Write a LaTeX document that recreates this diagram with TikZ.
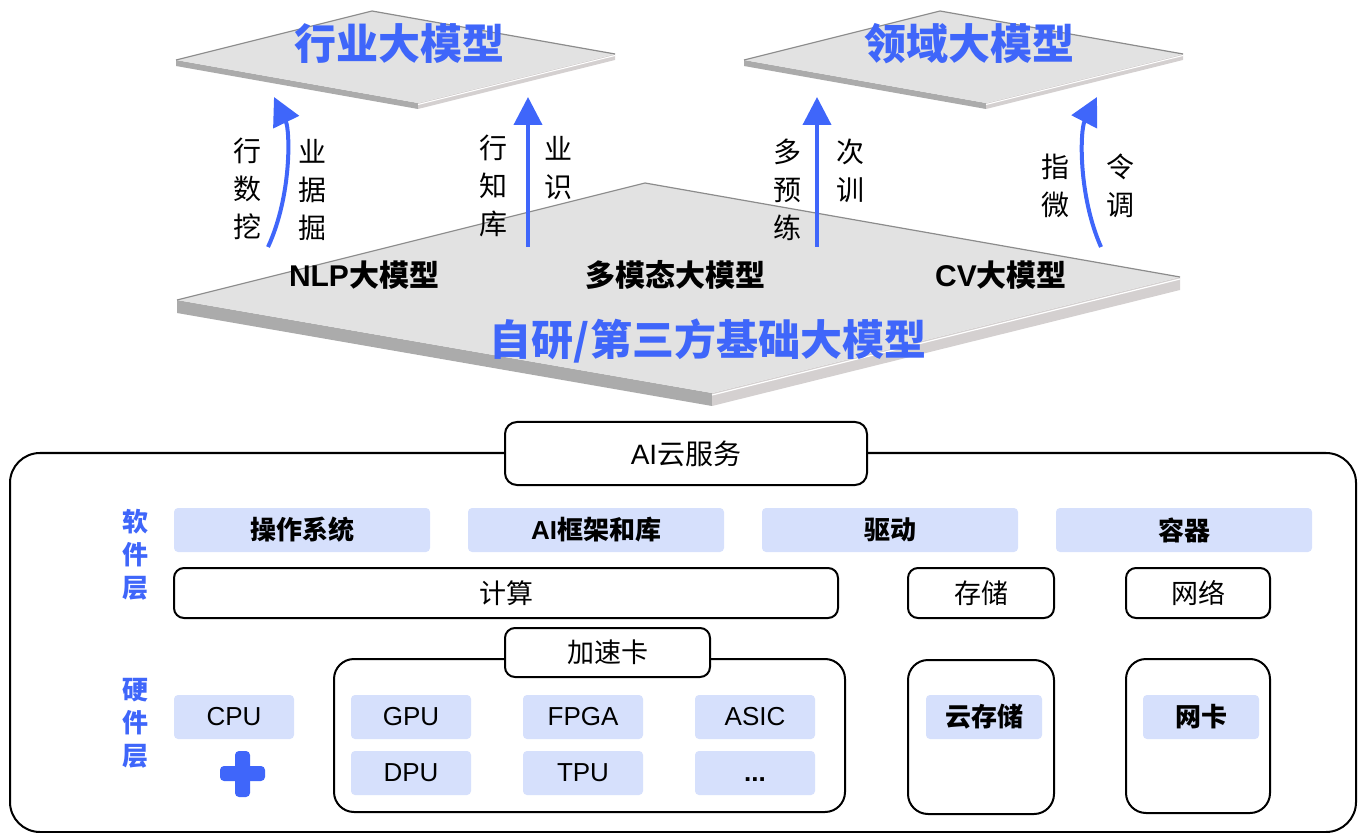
\documentclass[tikz,border=0pt]{standalone}
\usepackage{fontspec}
\setmainfont{Liberation Sans}
\newfontfamily\cjk{Noto Sans CJK SC}
\usetikzlibrary{arrows.meta}
\definecolor{tblue}{HTML}{3F66FA}
\definecolor{lblue}{HTML}{D6E0FC}
\definecolor{face}{HTML}{E2E2E2}
\definecolor{sideL}{HTML}{ABABAB}
\definecolor{sideR}{HTML}{D4D0D0}
\definecolor{edgec}{HTML}{8C8C8C}
\tikzset{
  lbx/.style={fill=lblue, rounded corners=2pt, inner sep=0pt, minimum height=22pt},
  cjkb/.style={font=\cjk\bfseries\fontsize{13}{15}\selectfont},
  latn/.style={font=\fontsize{13}{15}\selectfont},
  wbx/.style={draw=black, line width=1pt, fill=white, rounded corners=5pt, inner sep=0pt,
    font=\cjk\fontsize{13.5}{16}\selectfont},
  cont/.style={draw=black, line width=1pt, fill=white, rounded corners=10pt, inner sep=0pt},
  btitle/.style={text=tblue, font=\cjk\bfseries\fontsize{21}{25}\selectfont, inner sep=0pt},
  mtitle/.style={font=\cjk\bfseries\fontsize{15}{18}\selectfont, inner sep=0pt},
  lbl/.style={font=\cjk\fontsize{14}{19}\selectfont, align=center, inner sep=0pt},
  layer/.style={text=tblue, font=\cjk\bfseries\fontsize{13}{16.5}\selectfont, align=center, inner sep=0pt},
  arr/.style={draw=tblue, line width=2pt, -{Triangle[width=14pt,length=14pt]}},
}
\begin{document}
\begin{tikzpicture}[x=0.5pt,y=-0.5pt]
\useasboundingbox (0,0) rectangle (1358,833);

% ---------- big base plate ----------
\fill[sideL] (177,300) -- (712,393) -- (712,406) -- (177,313) -- cycle;
\fill[sideR] (712,393) -- (1180,277) -- (1180,290) -- (712,406) -- cycle;
\fill[face] (645,183) -- (1180,277) -- (712,393) -- (177,300) -- cycle;
\draw[edgec, line width=0.6pt] (177,300) -- (645,183) -- (1180,277);
\draw[white, line width=0.6pt] (712,395) -- (1180,279);

% ---------- top plates ----------
\fill[sideL] (176,60) -- (418,103) -- (418,109) -- (176,66) -- cycle;
\fill[sideR] (418,103) -- (615,54) -- (615,60) -- (418,109) -- cycle;
\fill[face] (372,11) -- (615,54) -- (418,103) -- (176,60) -- cycle;
\draw[edgec, line width=0.6pt] (176,60) -- (372,11) -- (615,54);
\draw[white, line width=0.5pt] (418,104.5) -- (615,55.5);

\fill[sideL] (744,60) -- (986,103) -- (986,109) -- (744,66) -- cycle;
\fill[sideR] (986,103) -- (1183,54) -- (1183,60) -- (986,109) -- cycle;
\fill[face] (940,11) -- (1183,54) -- (986,103) -- (744,60) -- cycle;
\draw[edgec, line width=0.6pt] (744,60) -- (940,11) -- (1183,54);
\draw[white, line width=0.5pt] (986,104.5) -- (1183,55.5);

% ---------- plate titles ----------
\node[btitle] (hy) at (399,44) {行业大模型};
\node[btitle] (ly) at (969,44) {领域大模型};
\node[btitle] (base) at (708,341) {自研/第三方基础大模型};
\node[mtitle] (nlp) at (364,275) {{\rmfamily NLP}大模型};
\node[mtitle] (mm) at (675,275) {多模态大模型};
\node[mtitle] (cv) at (1001,275) {{\rmfamily CV}大模型};

% ---------- arrows ----------
\coordinate (a1s) at (268,247); \coordinate (a1e) at (274,97);
\coordinate (a2s) at (528,247); \coordinate (a2e) at (528,97);
\coordinate (a3s) at (817,247); \coordinate (a3e) at (817,97);
\coordinate (a4s) at (1101,247); \coordinate (a4e) at (1097,97);
\draw[arr] (a1s) .. controls (292,195) and (290,130) .. (a1e);
\draw[arr] (a2s) -- (a2e);
\draw[arr] (a3s) -- (a3e);
\draw[arr] (a4s) .. controls (1078,195) and (1080,130) .. (a4e);

\node[lbl] (t1a) at (247,189) {行\\数\\挖};
\node[lbl] (t1b) at (312,190) {业\\据\\掘};
\node[lbl] (t2a) at (493,186) {行\\知\\库};
\node[lbl] (t2b) at (558,168) {业\\识};
\node[lbl] (t3a) at (787,190) {多\\预\\练};
\node[lbl] (t3b) at (850,171) {次\\训};
\node[lbl] (t4a) at (1055,186) {指\\微};
\node[lbl] (t4b) at (1120,186) {令\\调};

% ---------- infrastructure ----------
\draw[line width=1pt, rounded corners=15pt] (10,453) rectangle (1356,832);
\node[wbx, rounded corners=6pt, minimum width=181pt, minimum height=31.5pt,
  font=\cjk\fontsize{14}{17}\selectfont] (cloud) at (686,453.5) {{\rmfamily AI}云服务};

\node[layer] (sw) at (135,555) {软\\件\\层};
\node[layer] (hw) at (135,723) {硬\\件\\层};

\node[lbx, cjkb, minimum width=128pt] (os) at (302,530) {操作系统};
\node[lbx, cjkb, minimum width=128pt] (fw) at (596,530) {{\rmfamily AI}框架和库};
\node[lbx, cjkb, minimum width=128pt] (drv) at (890,530) {驱动};
\node[lbx, cjkb, minimum width=128pt] (ctn) at (1184,530) {容器};

\node[wbx, minimum width=332pt, minimum height=25pt] (comp) at (506,593) {计算};
\node[wbx, minimum width=73pt, minimum height=25pt] (stor) at (981,593) {存储};
\node[wbx, minimum width=72pt, minimum height=25pt] (net) at (1198,593) {网络};

\node[cont, minimum width=255.5pt, minimum height=76.5pt] (acc) at (589.5,735.5) {};
\node[wbx, minimum width=102.5pt, minimum height=24.5pt] (acct) at (607.5,652.5) {加速卡};
\node[cont, minimum width=73pt, minimum height=77pt] (cst) at (981,737) {};
\node[cont, minimum width=72pt, minimum height=77pt] (nic) at (1198,736) {};

\node[lbx, latn, minimum width=60pt] (cpu) at (234,717) {CPU};
\node[lbx, latn, minimum width=60pt] (gpu) at (411,717) {GPU};
\node[lbx, latn, minimum width=60pt] (fpga) at (583,717) {FPGA};
\node[lbx, latn, minimum width=60pt] (asic) at (755,717) {ASIC};
\node[lbx, latn, minimum width=60pt] (dpu) at (411,773) {DPU};
\node[lbx, latn, minimum width=60pt] (tpu) at (583,773) {TPU};
\node[lbx, latn, minimum width=60pt] (etc) at (755,773) {\vphantom{CPU}\textbf{...}};
\node[lbx, cjkb, minimum width=58pt] (cst2) at (984,717) {云存储};
\node[lbx, cjkb, minimum width=58pt] (nic2) at (1201,717) {网卡};

% plus sign
\fill[tblue, rounded corners=2pt] (220,766) rectangle (265,781);
\fill[tblue, rounded corners=2pt] (235,751) rectangle (250,797);
\end{tikzpicture}
\end{document}
